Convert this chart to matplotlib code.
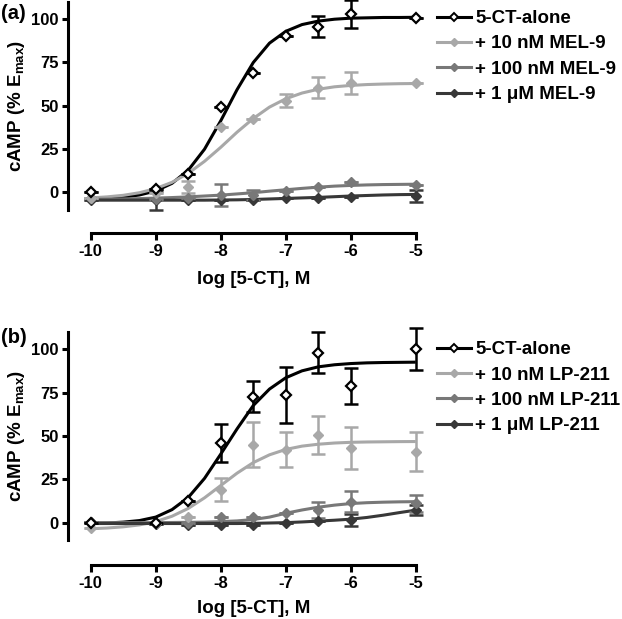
import matplotlib
matplotlib.use("Agg")
import matplotlib.pyplot as plt

plt.rcParams["font.family"] = "Liberation Sans"
plt.rcParams["font.weight"] = "bold"
plt.rcParams["mathtext.default"] = "regular"
plt.rcParams["axes.unicode_minus"] = False

# doses (log M) of the measured points
dose = [-10, -9, -8.5, -8, -7.5, -7, -6.5, -6, -5]
fit_x = [-10, -9.75, -9.5, -9.25, -9, -8.75, -8.5, -8.25, -8, -7.75, -7.5,
         -7.25, -7, -6.75, -6.5, -6.25, -6, -5.75, -5.5, -5.25, -5]

# ---- panel (a): MEL-9 ----
a_labels = ["5-CT-alone", "+ 10 nM MEL-9", "+ 100 nM MEL-9", "+ 1 \u03bcM MEL-9"]
a_mean = [
    [0, 2, 10.5, 49, 69, 90, 95.5, 103, 100.5],
    [-3, -0.5, 3, 38, 42.5, 53, 60.5, 63, 63],
    [-3.5, -4, -3, -1.5, -1.5, 1, 3, 6, 4.5],
    [-4.5, -4.5, -4.5, -4.5, -4.5, -3.5, -3, -2.5, -2],
]
a_err = [
    [0, 0, 0, 0, 0, 0, 6, 8, 0],
    [0, 0, 3.5, 0, 0, 4, 6, 6.5, 0],
    [0, 0, 0, 6.5, 3, 0, 0, 0, 0],
    [0, 5.5, 0, 0, 0, 0, 0, 0, 3.5],
]
a_fit = [
    [-3.7, -3.4, -2.8, -1.5, 0.8, 5.2, 12.8, 24.9, 41.3, 59.2, 74.9,
     86.1, 92.9, 96.8, 98.8, 99.9, 100.5, 100.7, 100.9, 100.9, 101],
    [-3.2, -2.6, -1.7, -0.2, 2.2, 5.8, 11.0, 17.9, 26.0, 34.7, 42.6,
     49.2, 54.0, 57.3, 59.5, 60.9, 61.7, 62.2, 62.5, 62.7, 62.8],
    [-4, -3.9, -3.8, -3.6, -3.3, -3.0, -2.6, -2.1, -1.6, -0.9, -0.2,
     0.7, 1.5, 2.3, 3.0, 3.6, 4.0, 4.3, 4.5, 4.6, 4.7],
    [-4.5, -4.5, -4.5, -4.5, -4.5, -4.5, -4.5, -4.5, -4.4, -4.3, -4.1,
     -3.8, -3.5, -3.2, -2.9, -2.5, -2.1, -1.8, -1.5, -1.3, -1.2],
]

# ---- panel (b): LP-211 ----
b_labels = ["5-CT-alone", "+ 10 nM LP-211", "+ 100 nM LP-211", "+ 1 \u03bcM LP-211"]
b_mean = [
    [0, 0, 12.7, 45.8, 72.6, 73.6, 98, 78.8, 100],
    [-3, 0, 3.5, 19, 44.8, 42, 50.5, 43, 41],
    [0.5, 0, 0, 3.5, 3, 5.4, 7.3, 12, 11.2],
    [0.5, -0.5, -1.3, -1.3, -1.3, 0, 1, 1.5, 7.3],
]
b_err = [
    [0, 0, 0, 11, 9, 16, 12, 10.6, 12],
    [0, 0, 0, 6.5, 13, 10, 11, 12, 11.5],
    [0, 0, 0, 0, 0, 0, 4.8, 6, 4.8],
    [0, 0, 0, 0, 0, 0, 0, 3.5, 2.7],
]
b_fit = [
    [-0.3, -0.2, 0.3, 1.2, 3.2, 7.5, 14.5, 25.5, 39.5, 54, 67.5,
     77, 83.5, 87.5, 89.8, 91, 91.7, 92.1, 92.3, 92.4, 92.5],
    [-3.5, -3.1, -2.4, -1.3, 0.6, 3.7, 8.2, 14.3, 21.4, 28.5, 34.6,
     39.1, 42.2, 44.1, 45.2, 45.9, 46.3, 46.5, 46.6, 46.7, 46.75],
    [0, 0, 0, 0, 0, 0.1, 0.2, 0.3, 0.6, 1.0, 1.8,
     3.2, 5.4, 7.3, 8.9, 10.1, 11.0, 11.5, 11.8, 12.0, 12.1],
    [-0.5, -0.5, -0.5, -0.5, -0.5, -0.5, -0.5, -0.5, -0.5, -0.5, -0.4,
     -0.2, 0, 0.4, 0.9, 1.4, 2.0, 3.0, 4.3, 5.8, 7.2],
]

colors = ["black", "#a8a8a8", "#787878", "#383838"]
faces = ["white", "#a8a8a8", "#787878", "#383838"]

W, H = 622, 619
fig = plt.figure(figsize=(W / 100, H / 100), dpi=100)


def panel(rect, letter, labels, means, errs, fits, leg_y, letter_y, xoff):
    ax = fig.add_axes(rect)
    for i in [3, 2, 1, 0]:
        ax.plot(fit_x, fits[i], color=colors[i], lw=2.2, zorder=2 + i * 0.1,
                clip_on=False, solid_capstyle="butt")
        ax.errorbar(dose, means[i], yerr=errs[i], fmt="none", ecolor=colors[i],
                    elinewidth=1.8, capsize=5, capthick=1.8, zorder=3, clip_on=False)
        ax.plot(dose, means[i], ls="none", marker="D", ms=5.2 if i == 0 else 4.6,
                mfc=faces[i], mec=colors[i], mew=1.6 if i == 0 else 1,
                zorder=4 if i == 0 else 3.5, clip_on=False)
    ax.set_xlim(-10.35, -5)
    ax.set_ylim(-10, 110)
    for s in ["top", "right"]:
        ax.spines[s].set_visible(False)
    ax.spines["left"].set_linewidth(2.2)
    ax.spines["bottom"].set_linewidth(2.2)
    ax.spines["bottom"].set_position(("outward", xoff))
    ax.spines["bottom"].set_bounds(-10, -5)
    ax.set_yticks([0, 25, 50, 75, 100])
    ax.set_xticks([-10, -9, -8, -7, -6, -5])
    ax.tick_params(axis="y", length=4.5, width=2.2, labelsize=12, pad=2)
    ax.tick_params(axis="x", length=5, width=2.2, labelsize=12, pad=3)
    ax.set_xlabel("log [5-CT], M", fontsize=13.5, fontweight="bold")
    ax.set_ylabel("cAMP (% E$_{max}$)", fontsize=13.5, fontweight="bold", labelpad=3)

    handles = []
    for i in range(4):
        h, = ax.plot([], [], color=colors[i], lw=2.2, marker="D",
                     ms=4.2 if i == 0 else 3.6, mfc=faces[i], mec=colors[i],
                     mew=1.4 if i == 0 else 1)
        handles.append(h)
    fig.legend(handles, labels, loc="upper left",
               bbox_to_anchor=(437 / W, 1 - leg_y / H), frameon=False,
               fontsize=13.5, handlelength=1.8, handletextpad=0.25,
               labelspacing=0.44, borderpad=0, borderaxespad=0, numpoints=1)
    fig.text(1 / W, 1 - letter_y / H, letter, fontsize=14.5,
             fontweight="bold", va="top", ha="left")
    return ax


ax_a = panel([68 / W, 1 - 209.7 / H, 347.75 / W, 208 / H], "(a)",
             a_labels, a_mean, a_err, a_fit, 10, 4, 16.8)
ax_b = panel([68 / W, 1 - 540 / H, 347.75 / W, 208.2 / H], "(b)",
             b_labels, b_mean, b_err, b_fit, 341, 328, 18)

# put the x labels at the same pixel rows as in the reference
for ax, row in [(ax_a, 288), (ax_b, 617)]:
    pos = ax.get_position()
    ax.xaxis.set_label_coords(0.533, (1 - row / H - pos.y0) / pos.height)
    ax.xaxis.label.set_va("bottom")

fig.savefig("out.png", dpi=100)
